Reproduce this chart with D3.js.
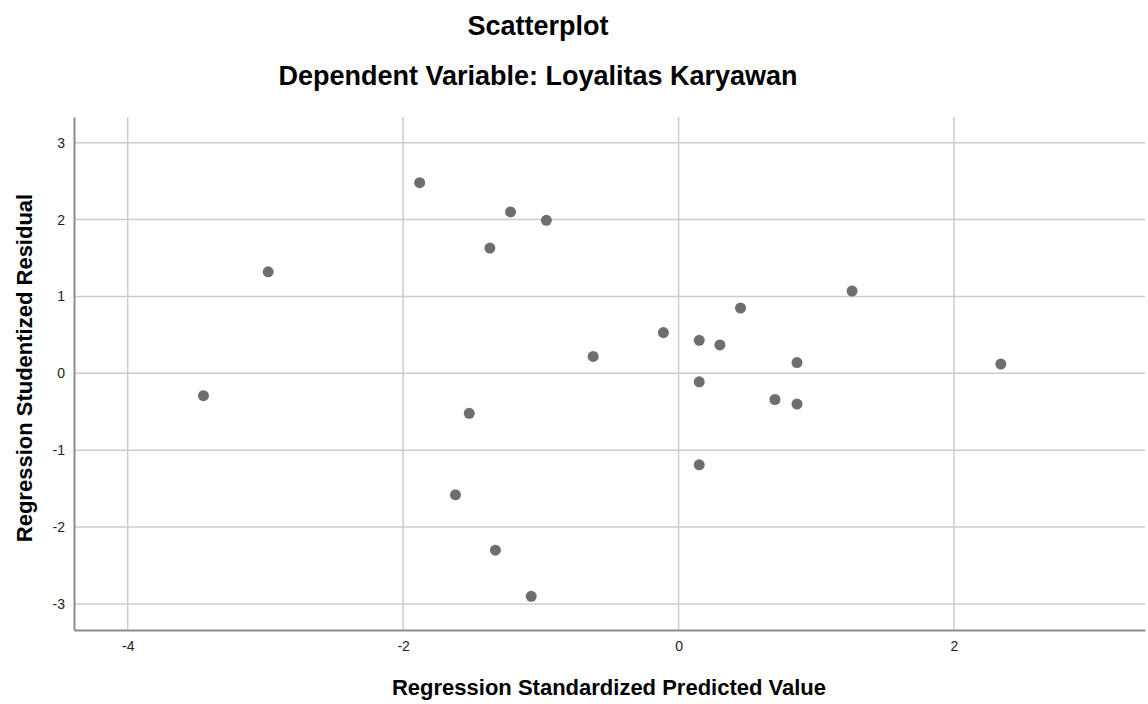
<!DOCTYPE html>
<html>
<head>
<meta charset="utf-8">
<script src="https://cdn.jsdelivr.net/npm/d3@7"></script>
<style>
  body { margin: 0; background: #fff; }
  text { font-family: "Liberation Sans", Arial, sans-serif; }
</style>
</head>
<body>
<div id="chart"></div>
<script>
// Scatterplot: standardized predicted vs studentized residual
var predicted = [-3.45, -2.98, -1.88, -1.22, -0.96, -1.37, -1.52, -0.62, -1.62, -1.33, -1.07,
  -0.11, 0.15, 0.30, 0.45, 1.26, 0.86, 0.15, 0.70, 0.86, 0.15, 2.34];
var residual = [-0.29, 1.32, 2.48, 2.10, 1.99, 1.63, -0.52, 0.22, -1.58, -2.30, -2.90,
  0.53, 0.43, 0.37, 0.85, 1.07, 0.14, -0.11, -0.34, -0.40, -1.19, 0.12];
var xTicks = [-4, -2, 0, 2];
var yTicks = [-3, -2, -1, 0, 1, 2, 3];

var W = 1148, H = 704;
var pLeft = 74, pRight = 1145, pTop = 117, pBottom = 630;

var svg = d3.select('#chart').append('svg')
  .attr('width', W)
  .attr('height', H);

var x = d3.scaleLinear().domain([-4.39, 3.387]).range([pLeft, pRight]);
var y = d3.scaleLinear().domain([-3.338, 3.334]).range([pBottom, pTop]);

// grid lines
svg.append('g').selectAll('line')
  .data(xTicks).enter().append('line')
  .attr('x1', function (d) { return x(d); })
  .attr('x2', function (d) { return x(d); })
  .attr('y1', pTop)
  .attr('y2', pBottom)
  .attr('stroke', '#cccccc')
  .attr('stroke-width', 1.5);

svg.append('g').selectAll('line')
  .data(yTicks).enter().append('line')
  .attr('x1', pLeft)
  .attr('x2', pRight)
  .attr('y1', function (d) { return y(d); })
  .attr('y2', function (d) { return y(d); })
  .attr('stroke', '#cccccc')
  .attr('stroke-width', 1.5);

// axes (hyphen minus like the original)
var fmt = function (d) { return String(d); };
var xAxis = svg.append('g')
  .attr('transform', 'translate(0,' + pBottom + ')')
  .call(d3.axisBottom(x).tickValues(xTicks).tickSize(0).tickPadding(11).tickFormat(fmt));
var yAxis = svg.append('g')
  .attr('transform', 'translate(' + pLeft + ',0)')
  .call(d3.axisLeft(y).tickValues(yTicks).tickSize(0).tickPadding(9).tickFormat(fmt));

[xAxis, yAxis].forEach(function (a) {
  a.select('.domain').attr('stroke', '#8c8c8c').attr('stroke-width', 2);
  a.selectAll('text')
    .attr('fill', '#222')
    .style('font-size', '14px')
    .style('font-family', '"Liberation Sans", Arial, sans-serif');
});

// points
svg.append('g').selectAll('circle')
  .data(predicted).enter().append('circle')
  .attr('cx', function (d) { return x(d); })
  .attr('cy', function (d, i) { return y(residual[i]); })
  .attr('r', 5.5)
  .attr('fill', '#6e6e6e');

// titles
svg.append('text')
  .attr('x', 538).attr('y', 35)
  .attr('text-anchor', 'middle')
  .style('font-size', '27px').style('font-weight', 'bold')
  .text('Scatterplot');
svg.append('text')
  .attr('x', 538).attr('y', 85)
  .attr('text-anchor', 'middle')
  .style('font-size', '27px').style('font-weight', 'bold')
  .text('Dependent Variable: Loyalitas Karyawan');

svg.append('text')
  .attr('x', 609).attr('y', 695)
  .attr('text-anchor', 'middle')
  .style('font-size', '22px').style('font-weight', 'bold')
  .text('Regression Standardized Predicted Value');
svg.append('text')
  .attr('transform', 'translate(32,368) rotate(-90)')
  .attr('text-anchor', 'middle')
  .style('font-size', '22px').style('font-weight', 'bold')
  .text('Regression Studentized Residual');
</script>
</body>
</html>
